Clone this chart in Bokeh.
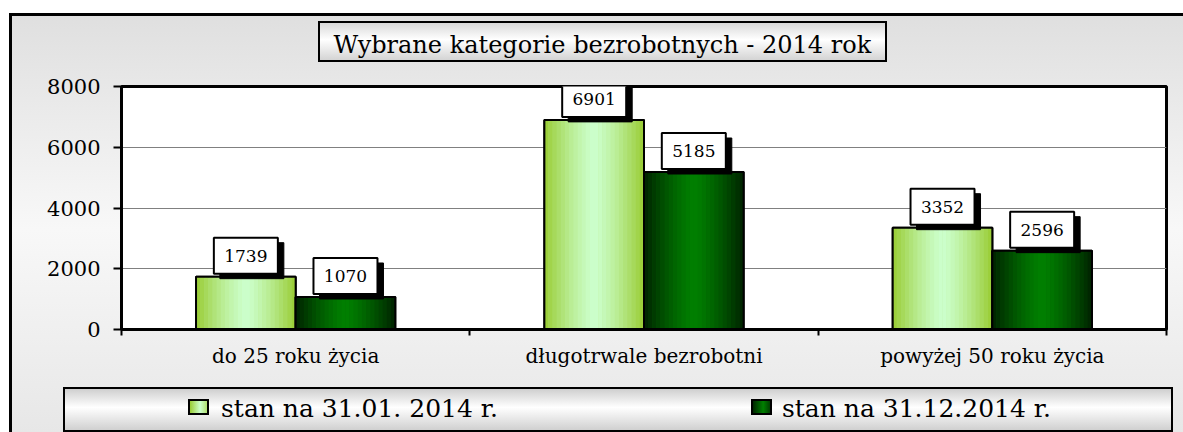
from bokeh.plotting import figure
from bokeh.models import (Range1d, FixedTicker, ColumnDataSource, LinearAxis)
from bokeh.core.properties import value
from bokeh.embed import file_html
from bokeh.resources import INLINE

# ---- data ----
categories = ["do 25 roku życia", "długotrwale bezrobotni", "powyżej 50 roku życia"]
series_names = ["stan na 31.01. 2014 r.", "stan na 31.12.2014 r."]
values_jan = [1739, 6901, 3352]
values_dec = [1070, 5185, 2596]
y_ticks = [0, 2000, 4000, 6000, 8000]
title_text = "Wybrane kategorie bezrobotnych - 2014 rok"

# ---- layout constants ----
W, H = 1183, 432
ML, MR, MT, MB = 121, 17, 86, 103
FW, FH = W - ML - MR, H - MT - MB
YMAX = 8000
du = YMAX / FH            # data units per pixel (y)
dxu = 3.0 / FW            # data units per pixel (x)
FONT = "DejaVu Serif"

p = figure(width=W, height=H, x_range=Range1d(-0.5, 2.5), y_range=Range1d(0, YMAX),
           output_backend="svg", toolbar_location=None,
           min_border_left=ML, min_border_right=MR, min_border_top=MT, min_border_bottom=MB)
p.border_fill_color = None
p.background_fill_color = "white"
p.outline_line_color = "black"
p.outline_line_width = 3

BLACK = "linear-gradient(#000,#000)"
p.styles = {
    "background": ", ".join([
        # legend key squares
        "linear-gradient(90deg, #99cc33, #ccffcc 60%, #b0e070) 190px 401px / 17px 12px no-repeat",
        f"{BLACK} 188px 399px / 21px 16px no-repeat",
        "linear-gradient(90deg, #002600, #008000 60%, #004000) 753px 401px / 17px 12px no-repeat",
        f"{BLACK} 751px 399px / 21px 16px no-repeat",
        # title box
        "linear-gradient(180deg, #d9d9d9, #ffffff 45%, #d4d4d4) 320px 23px / 565px 37px no-repeat",
        f"{BLACK} 318px 21px / 569px 41px no-repeat",
        # legend box
        "linear-gradient(180deg, #cfcfcf, #ffffff 45%, #d0d0d0) 65px 389px / 1106px 41px no-repeat",
        f"{BLACK} 63px 387px / 1110px 45px no-repeat",
        # outer border
        f"{BLACK} 9px 13px / 3px 100% no-repeat",
        f"{BLACK} 9px 13px / 100% 3px no-repeat",
        "linear-gradient(180deg, #dfdfdf 0%, #eeeeee 30%, #f8f8f8 50%, #e6e6e6 100%) 9px 13px / 100% 100% no-repeat",
        "white",
    ])
}

# title
p.title.text = title_text
p.title.align = "left"
p.title.offset = 212
p.title.standoff = 55
p.title.text_font = FONT
p.title.text_font_size = "24px"
p.title.text_font_style = "normal"
p.title.text_color = "black"

# grid
p.xgrid.visible = False
p.ygrid.ticker = FixedTicker(ticks=y_ticks)
p.ygrid.grid_line_color = "#808080"
p.ygrid.grid_line_width = 1

# y axis
ya = p.yaxis[0]
ya.ticker = FixedTicker(ticks=y_ticks)
ya.axis_line_width = 3
ya.axis_line_color = "black"
ya.major_tick_out = 8
ya.major_tick_in = 0
ya.major_tick_line_width = 2
ya.minor_tick_line_color = None
ya.major_label_text_font = FONT
ya.major_label_text_font_size = "21px"
ya.major_label_text_color = "black"
ya.major_label_standoff = 13

# x axis
xa = p.xaxis[0]
xa.ticker = FixedTicker(ticks=[0, 1, 2], minor_ticks=[-0.5, 0.5, 1.5, 2.5])
xa.major_label_overrides = {i: c for i, c in enumerate(categories)}
xa.axis_line_width = 3
xa.axis_line_color = "black"
xa.major_tick_line_color = None
xa.major_tick_out = 0
xa.minor_tick_out = 6
xa.minor_tick_in = 0
xa.minor_tick_line_width = 2
xa.minor_tick_line_color = "black"
xa.major_label_text_font = FONT
xa.major_label_text_font_size = "20px"
xa.major_label_text_color = "black"
xa.major_label_standoff = 8


def hex2rgb(h):
    h = h.lstrip("#")
    return tuple(int(h[i:i + 2], 16) for i in (0, 2, 4))


def mix(a, b, t):
    ra, rb = hex2rgb(a), hex2rgb(b)
    return "#%02x%02x%02x" % tuple(int(round(x + (y - x) * t)) for x, y in zip(ra, rb))


BW = 0.286
offsets = [-0.143, 0.143]
grads = [("#99cc33", "#ccffcc"), ("#002200", "#008000")]
mids = ["#b8e888", "#006400"]
series_vals = [values_jan, values_dec]
N = 24

for s in range(2):
    vals = series_vals[s]
    xs = [i + offsets[s] for i in range(len(categories))]
    base_src = ColumnDataSource(dict(x=xs, top=vals))
    p.vbar(x="x", top="top", width=BW, source=base_src,
           fill_color=mids[s], line_color="black", line_width=2)
    sx, stop, scol = [], [], []
    for i, v in enumerate(vals):
        for k in range(N):
            t = (k + 0.5) / N
            d = abs(t - 0.5) * 2  # 0 center, 1 edge
            c = mix(grads[s][1], grads[s][0], d ** 1.3)
            sx.append(xs[i] - BW / 2 + t * BW)
            stop.append(v)
            scol.append(c)
    p.vbar(x="x", top="top", width=BW / N * 1.08, fill_color="c", line_color=None,
           source=ColumnDataSource(dict(x=sx, top=stop, c=scol)))
    p.vbar(x="x", top="top", width=BW, source=base_src,
           fill_color=None, line_color="black", line_width=2)

# value label boxes with shadows
for s in range(2):
    vals = series_vals[s]
    xs = [i + offsets[s] for i in range(len(categories))]
    src = ColumnDataSource(dict(
        x=xs, y=vals,
        xs_sh=[x + 6 * dxu for x in xs],
        ybox=[v + 21 * du for v in vals],
        ysh=[v + 16 * du for v in vals],
        t=[str(v) for v in vals]))
    p.rect(x="xs_sh", y="ysh", width=64, height=36, width_units="screen", height_units="screen",
           fill_color="black", line_color="black", source=src)
    p.rect(x="x", y="ybox", width=64, height=36, width_units="screen", height_units="screen",
           fill_color="white", line_color="black", line_width=2, source=src)
    p.text(x="x", y="y", text="t", y_offset=-21, text_align="center", text_baseline="middle",
           text_font=value(FONT), text_font_size="17px", text_color="black", source=src)

# legend texts (drawn as a label row below the category axis)
legend_text_centers = [(359 - ML) * dxu - 0.5, (916 - ML) * dxu - 0.5]
leg_axis = LinearAxis(ticker=FixedTicker(ticks=legend_text_centers),
                      major_label_overrides={legend_text_centers[0]: series_names[0],
                                             legend_text_centers[1]: series_names[1]})
leg_axis.axis_line_color = None
leg_axis.major_tick_line_color = None
leg_axis.minor_tick_line_color = None
leg_axis.major_tick_out = 0
leg_axis.major_tick_in = 0
leg_axis.major_label_text_font = FONT
leg_axis.major_label_text_font_size = "25px"
leg_axis.major_label_text_color = "black"
leg_axis.major_label_standoff = 23
p.add_layout(leg_axis, "below")

open("out.html", "w").write(file_html(p, INLINE))
